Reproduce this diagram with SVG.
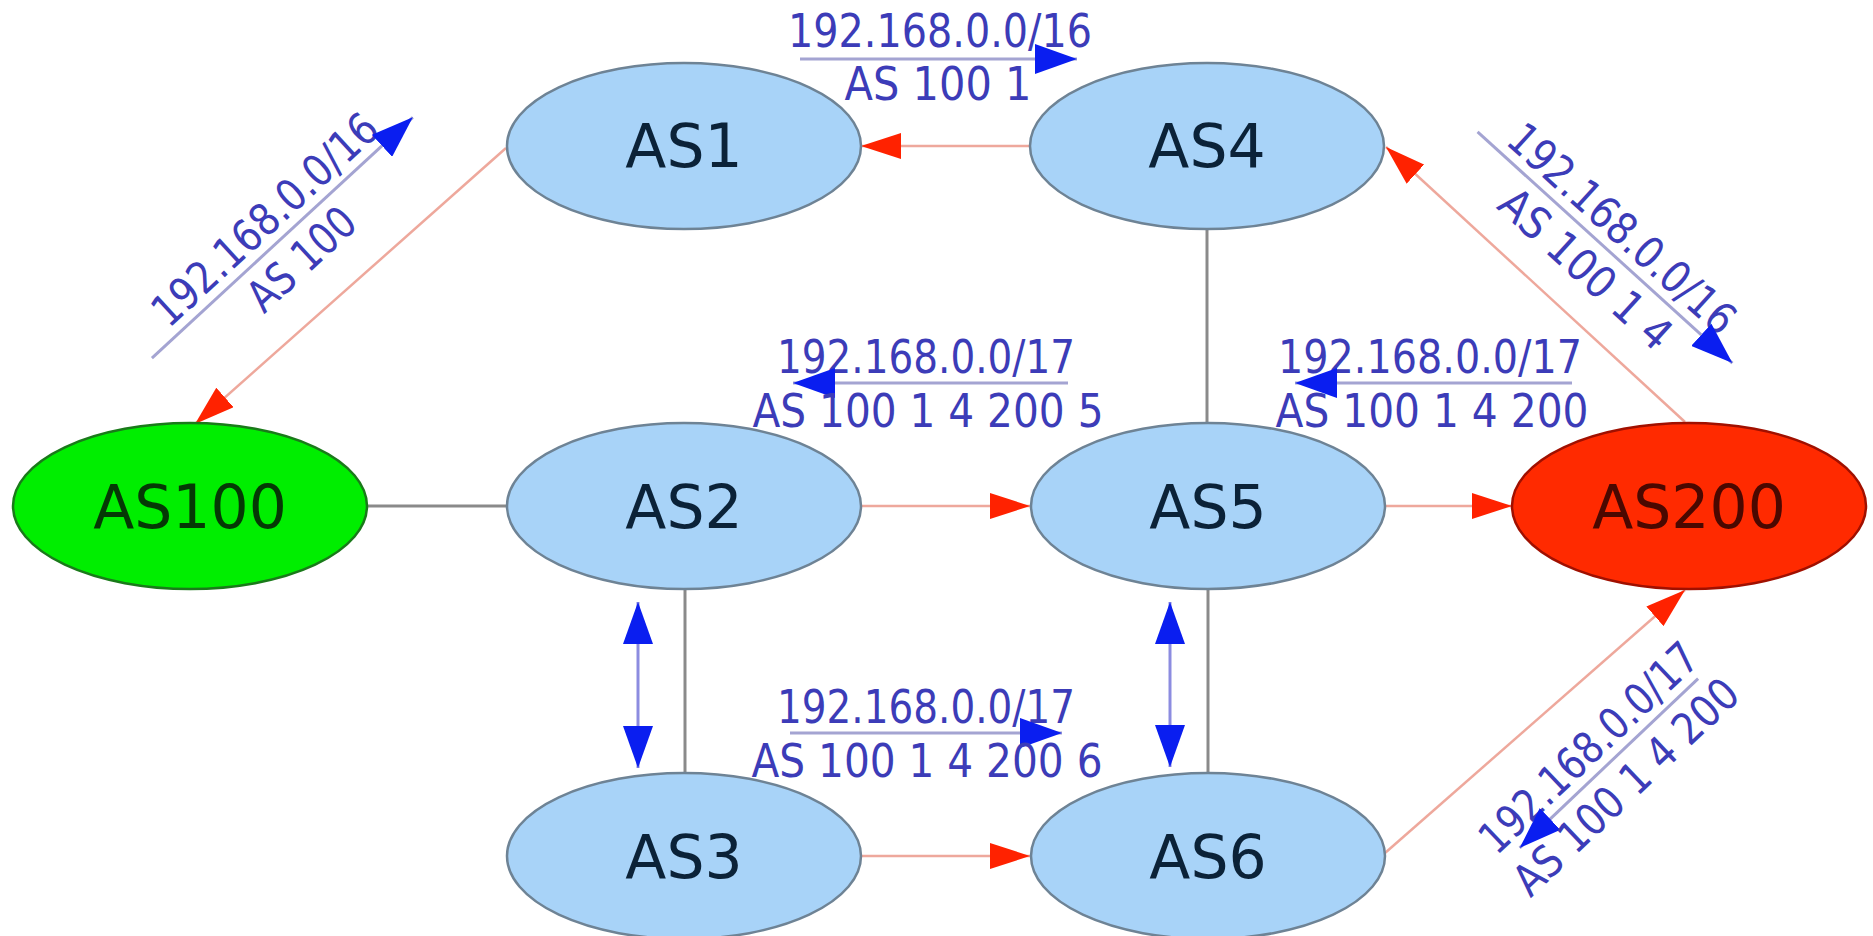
<svg xmlns="http://www.w3.org/2000/svg" width="1873" height="936" viewBox="0 0 1873 936">
<style>
.node ellipse{stroke-width:2.5}
.blue ellipse{fill:#a8d3f8;stroke:#6e8395}
.nt{font-family:"DejaVu Sans",sans-serif;font-size:60px;text-anchor:middle}
.blue text{fill:#0b2238}
.gray{stroke:#8a8a8a;stroke-width:3;fill:none}
.red{stroke:#eea89c;stroke-width:2.5;fill:none;marker-end:url(#rh)}
.lbl text{font-family:"DejaVu Sans",sans-serif;font-size:46px;fill:#3c3cb8;text-anchor:middle}
.rot text{font-size:44px}
.bar{stroke:#a4a4d2;stroke-width:3;fill:none}
.be{marker-end:url(#bh)}
.bs{marker-start:url(#bh)}
.dbl{stroke:#8c8ce0;stroke-width:3;fill:none;marker-start:url(#bh);marker-end:url(#bh)}
</style>
<defs>
<marker id="rh" markerUnits="userSpaceOnUse" markerWidth="40" markerHeight="26" refX="40" refY="13" orient="auto">
<path d="M0,0 L40,13 L0,26 z" fill="#ff2200"/>
</marker>
<marker id="bh" markerUnits="userSpaceOnUse" markerWidth="42" markerHeight="30" refX="42" refY="15" orient="auto-start-reverse">
<path d="M0,0 L42,15 L0,30 z" fill="#0a1ef0"/>
</marker>
</defs>
<rect x="0" y="0" width="1873" height="936" fill="#ffffff"/>
<g id="connectors">
<line class="gray" x1="367" y1="506" x2="507" y2="506"/>
<line class="gray" x1="1207" y1="229" x2="1207" y2="423"/>
<line class="gray" x1="685" y1="589" x2="685" y2="773"/>
<line class="gray" x1="1208" y1="589" x2="1208" y2="773"/>
<line class="red" x1="1030" y1="146" x2="861" y2="146"/>
<line class="red" x1="861" y1="506" x2="1030" y2="506"/>
<line class="red" x1="1385" y1="506" x2="1512" y2="506"/>
<line class="red" x1="861" y1="856" x2="1030" y2="856"/>
<line class="red" x1="506" y1="148" x2="195" y2="424"/>
<line class="red" x1="1685" y1="422" x2="1386" y2="147"/>
<line class="red" x1="1385" y1="853" x2="1685" y2="590"/>
<line class="dbl" x1="638" y1="602" x2="638" y2="768"/>
<line class="dbl" x1="1170" y1="602" x2="1170" y2="767"/>
</g>
<g id="node-AS1" class="node blue"><ellipse cx="684" cy="146" rx="177" ry="83"/><text class="nt" x="684" y="167">AS1</text></g>
<g id="node-AS4" class="node blue"><ellipse cx="1207" cy="146" rx="177" ry="83"/><text class="nt" x="1207" y="167">AS4</text></g>
<g id="node-AS100" class="node"><ellipse cx="190" cy="506" rx="177" ry="83" fill="#00ee00" stroke="#1a7a1a"/><text class="nt" x="190" y="528" fill="#053805">AS100</text></g>
<g id="node-AS2" class="node blue"><ellipse cx="684" cy="506" rx="177" ry="83"/><text class="nt" x="684" y="528">AS2</text></g>
<g id="node-AS5" class="node blue"><ellipse cx="1208" cy="506" rx="177" ry="83"/><text class="nt" x="1208" y="528">AS5</text></g>
<g id="node-AS200" class="node"><ellipse cx="1689" cy="506" rx="177" ry="83" fill="#ff2a00" stroke="#a01000"/><text class="nt" x="1689" y="528" fill="#4a0800">AS200</text></g>
<g id="node-AS3" class="node blue"><ellipse cx="684" cy="856" rx="177" ry="83"/><text class="nt" x="684" y="878">AS3</text></g>
<g id="node-AS6" class="node blue"><ellipse cx="1208" cy="856" rx="177" ry="83"/><text class="nt" x="1208" y="878">AS6</text></g>
<g id="label-AS1-AS4" class="lbl" transform="translate(938,59)">
<text x="2" y="-12" textLength="304" lengthAdjust="spacingAndGlyphs">192.168.0.0/16</text>
<line class="bar be" x1="-138" y1="0" x2="139" y2="0"/>
<text x="0" y="41" textLength="187" lengthAdjust="spacingAndGlyphs">AS 100 1</text>
</g>
<g id="label-AS2-AS5" class="lbl" transform="translate(929,383)">
<text x="-3" y="-10" textLength="298" lengthAdjust="spacingAndGlyphs">192.168.0.0/17</text>
<line class="bar bs" x1="-136" y1="0" x2="139" y2="0"/>
<text x="-1" y="44" textLength="351" lengthAdjust="spacingAndGlyphs">AS 100 1 4 200 5</text>
</g>
<g id="label-AS5-AS200" class="lbl" transform="translate(1432,383)">
<text x="-2" y="-10" textLength="304" lengthAdjust="spacingAndGlyphs">192.168.0.0/17</text>
<line class="bar bs" x1="-137" y1="0" x2="140" y2="0"/>
<text x="0" y="44" textLength="313" lengthAdjust="spacingAndGlyphs">AS 100 1 4 200</text>
</g>
<g id="label-AS3-AS6" class="lbl" transform="translate(927,733)">
<text x="-1" y="-10" textLength="298" lengthAdjust="spacingAndGlyphs">192.168.0.0/17</text>
<line class="bar be" x1="-137" y1="0" x2="135" y2="0"/>
<text x="0" y="44" textLength="351" lengthAdjust="spacingAndGlyphs">AS 100 1 4 200 6</text>
</g>
<g id="label-AS100-AS1" class="lbl rot" transform="translate(282,238) rotate(-42.7)">
<text x="0" y="-10" textLength="290" lengthAdjust="spacingAndGlyphs">192.168.0.0/16</text>
<line class="bar be" x1="-177" y1="0" x2="178" y2="0"/>
<text x="0" y="44" textLength="130" lengthAdjust="spacingAndGlyphs">AS 100</text>
</g>
<g id="label-AS4-AS200" class="lbl rot" transform="translate(1605,247.5) rotate(42.2)">
<text x="0" y="-10" textLength="290" lengthAdjust="spacingAndGlyphs">192.168.0.0/16</text>
<line class="bar be" x1="-172" y1="0" x2="172" y2="0"/>
<text x="0" y="44" textLength="216" lengthAdjust="spacingAndGlyphs">AS 100 1 4</text>
</g>
<g id="label-AS200-AS6" class="lbl rot" transform="translate(1606,766) rotate(-43.5)">
<text x="0" y="-10" textLength="283" lengthAdjust="spacingAndGlyphs">192.168.0.0/17</text>
<line class="bar bs" x1="-119" y1="0" x2="127" y2="0"/>
<text x="0" y="44" textLength="292" lengthAdjust="spacingAndGlyphs">AS 100 1 4 200</text>
</g>
</svg>
